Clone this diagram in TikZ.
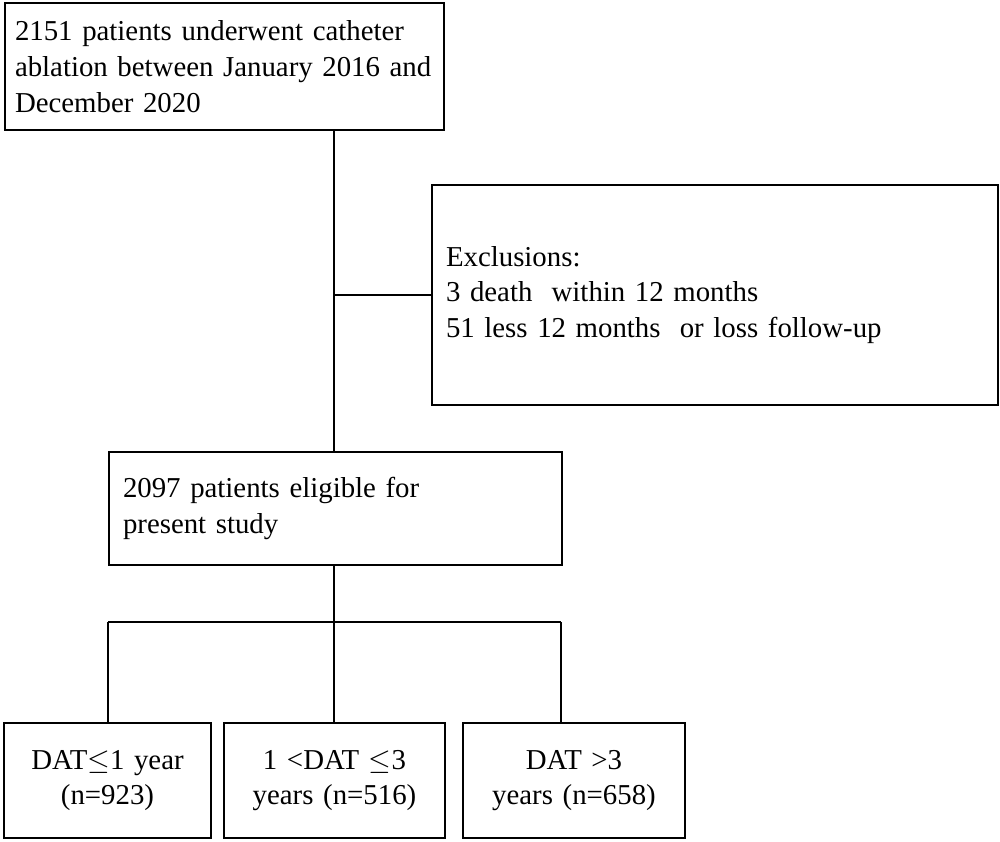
\documentclass[tikz,border=0pt]{standalone}
\usepackage{fontspec}
\setmainfont{Liberation Serif}
\usetikzlibrary{calc}
\tikzstyle{flowbox} = [rectangle, draw, line width=1.4pt, inner xsep=0.35cm, inner ysep=0pt,
    font=\fontsize{20.5}{25.5}\selectfont, align=left]
\tikzstyle{groupbox} = [flowbox, align=center, inner xsep=0pt]
\begin{document}
\begin{tikzpicture}[x=0.025cm, y=-0.025cm, line width=1.8pt]
    \useasboundingbox (0,0) rectangle (1000,842);
    \node [flowbox, inner xsep=0.25cm, text width=439*0.025cm-0.5cm, minimum height=127*0.025cm] (total) at (224.5,66.5)
        {2151 patients underwent catheter\\ablation between January 2016 and\\December 2020};
    \node [flowbox, text width=566*0.025cm-0.7cm, minimum height=220*0.025cm] (excl) at (715,295)
        {Exclusions:\\3 death\ \ within 12 months\\51 less 12 months\ \ or loss follow-up};
    \node [flowbox, text width=453*0.025cm-0.7cm, minimum height=113*0.025cm] (eligible) at (335.5,508.5)
        {2097 patients eligible for\\present study};
    \node [groupbox, text width=207*0.025cm, minimum height=115*0.025cm] (g1) at (107.5,780.5)
        {DAT$\leq$1 year\\(n=923)};
    \node [groupbox, text width=221*0.025cm, minimum height=115*0.025cm] (g2) at (334.5,780.5)
        {1 <DAT $\leq$3\\years (n=516)};
    \node [groupbox, text width=222*0.025cm, minimum height=115*0.025cm] (g3) at (574,780.5)
        {DAT >3\\years (n=658)};
    \coordinate (split) at (334,622);
    \coordinate (splitL) at (108,622);
    \coordinate (splitR) at (561,622);
    % Draw edges
    \draw (total.south -| split) -- (eligible.north -| split);
    \draw (total.south -| split) |- (excl.west);
    \draw (eligible.south -| split) -- (split);
    \draw (splitL) -- (splitR);
    \draw (splitL) -- (g1.north -| splitL);
    \draw (split) -- (g2.north -| split);
    \draw (splitR) -- (g3.north -| splitR);
\end{tikzpicture}
\end{document}
